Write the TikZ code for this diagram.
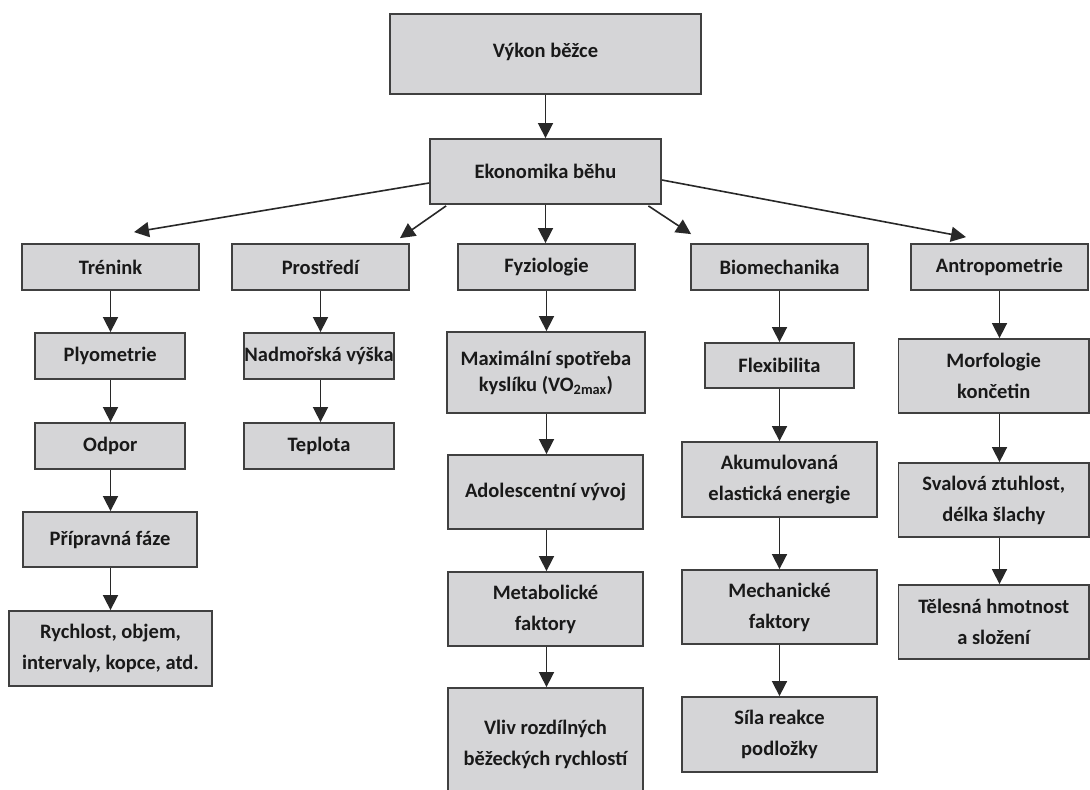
\documentclass[tikz,border=0pt]{standalone}
\usepackage{fontspec}
\setmainfont{Carlito}
\usetikzlibrary{arrows.meta,calc}
\definecolor{boxfill}{RGB}{213,213,215}
\definecolor{boxline}{RGB}{64,64,64}
\definecolor{arrline}{RGB}{40,40,40}
\definecolor{txt}{RGB}{25,25,25}
\tikzset{
  box/.style={draw=boxline, fill=boxfill, line width=1.8pt, inner sep=0pt, align=center,
    font=\bfseries\fontsize{20.5}{31}\selectfont, text=txt},
  bx/.style 2 args={box, minimum width=#1pt, minimum height=#2pt},
  arr/.style={draw=arrline, line width=1.6pt, -{Triangle[width=15pt,length=15pt]}},
}
\begin{document}
\begin{tikzpicture}[x=1pt,y=-1pt]
\useasboundingbox (0,0) rectangle (1090,790);
\clip (0,0) rectangle (1090,790);
\fill[white] (0,0) rectangle (1090,790);
% level 0-1
\node[bx={311}{80}] (vykon) at (545.5,54) {\raisebox{8pt}{Výkon běžce}};
\node[bx={231}{65}] (ekon) at (545.5,171.5) {Ekonomika běhu};
% level 2
\node[bx={177}{46}] (tren) at (110.5,267) {Trénink};
\node[bx={177}{46}] (pros) at (320.5,267) {Prostředí};
\node[bx={177}{46}] (fyz) at (546.5,267) {Fyziologie};
\node[bx={177}{46}] (biom) at (779.5,267) {Biomechanika};
\node[bx={177}{46}] (antr) at (999.5,267) {Antropometrie};
% level 3
\node[bx={150}{46}] (plyo) at (110.25,356) {Plyometrie};
\node[bx={150}{46}] (nadm) at (319,356) {Nadmořská výška};
\node[bx={198}{81}, font=\bfseries\fontsize{20.5}{26}\selectfont] (maxi) at (546,372.5) {Maximální spotřeba\\kyslíku (VO\textsubscript{2max})};
\node[bx={149}{45}] (flex) at (779.5,365.5) {Flexibilita};
\node[bx={190.5}{74}] (morf) at (993.75,376) {Morfologie\\končetin};
% level 4
\node[bx={150}{46}] (odpor) at (110.25,446) {Odpor};
\node[bx={150}{46}] (tepl) at (319,446) {Teplota};
\node[bx={195}{74}] (adol) at (545.5,492) {Adolescentní vývoj};
\node[bx={195}{75}] (akum) at (779.5,479.5) {Akumulovaná\\elastická energie};
\node[bx={190.5}{74}] (sval) at (993.75,500) {Svalová ztuhlost,\\délka šlachy};
% level 5
\node[bx={174}{55}] (pripr) at (110,539.5) {Přípravná fáze};
\node[bx={195}{74}] (metab) at (545.5,609) {Metabolické\\faktory};
\node[bx={195}{74}] (mech) at (779.5,607) {Mechanické\\faktory};
\node[bx={190.5}{74}] (tel) at (993.75,622) {Tělesná hmotnost\\a složení};
% level 6
\node[bx={203}{75}] (rych) at (110.5,648.5) {Rychlost, objem,\\intervaly, kopce, atd.};
\node[bx={195}{112}] (vliv) at (545.5,744) {\raisebox{-3pt}{\begin{tabular}{@{}c@{}}Vliv rozdílných\\běžeckých rychlostí\end{tabular}}};
\node[bx={195}{75}] (sila) at (779.5,734.5) {Síla reakce\\podložky};
% connectors
\draw[arr] (vykon.south) -- (ekon.north);
\draw[arr] (ekon.south) -- (ekon.south |- fyz.north);
\coordinate (e1) at ($(ekon.west)+(0,11.5)$);
\coordinate (t1) at ($(tren.north)+(23.5,-11)$);
\coordinate (e2) at ($(ekon.south west)+(17,1)$);
\coordinate (t2) at ($(pros.north)+(79.5,-5)$);
\coordinate (e3) at ($(ekon.south east)+(-13.5,1)$);
\coordinate (t3) at ($(biom.north west)+(1,-9)$);
\coordinate (e4) at ($(ekon.east)+(0,8.5)$);
\coordinate (t4) at ($(antr.north)+(-33.5,-6)$);
\draw[arr] (e1) -- (t1);
\draw[arr] (e2) -- (t2);
\draw[arr] (e3) -- (t3);
\draw[arr] (e4) -- (t4);
% columns
\draw[arr] (tren.south) -- (tren.south |- plyo.north);
\draw[arr] (plyo.south -| tren.south) -- (odpor.north -| tren.south);
\draw[arr] (odpor.south -| tren.south) -- (pripr.north -| tren.south);
\draw[arr] (pripr.south -| tren.south) -- (rych.north -| tren.south);
\draw[arr] (pros.south) -- (pros.south |- nadm.north);
\draw[arr] (nadm.south -| pros.south) -- (tepl.north -| pros.south);
\draw[arr] (fyz.south) -- (fyz.south |- maxi.north);
\draw[arr] (maxi.south -| fyz.south) -- (adol.north -| fyz.south);
\draw[arr] (adol.south -| fyz.south) -- (metab.north -| fyz.south);
\draw[arr] (metab.south -| fyz.south) -- (vliv.north -| fyz.south);
\draw[arr] (biom.south) -- (biom.south |- flex.north);
\draw[arr] (flex.south -| biom.south) -- (akum.north -| biom.south);
\draw[arr] (akum.south -| biom.south) -- (mech.north -| biom.south);
\draw[arr] (mech.south -| biom.south) -- (sila.north -| biom.south);
\draw[arr] (antr.south) -- (antr.south |- morf.north);
\draw[arr] (morf.south -| antr.south) -- (sval.north -| antr.south);
\draw[arr] (sval.south -| antr.south) -- (tel.north -| antr.south);
\end{tikzpicture}
\end{document}
